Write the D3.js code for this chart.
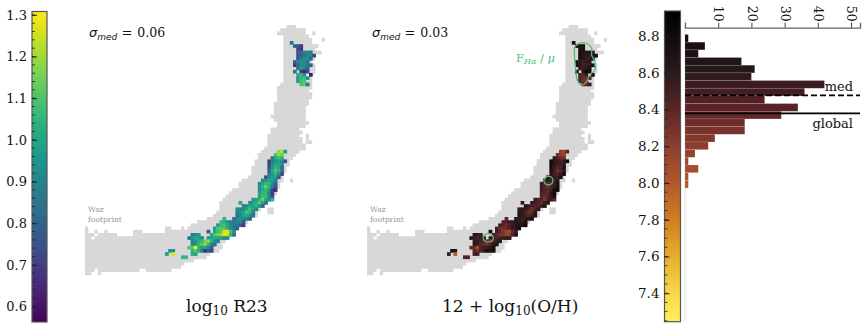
<!DOCTYPE html>
<html>
<head>
<meta charset="utf-8">
<script src="https://cdn.jsdelivr.net/npm/d3@7"></script>
<style>
  html, body { margin: 0; padding: 0; background: #fff; }
  svg { display: block; }
  text { font-family: "DejaVu Serif", serif; fill: #111; }
</style>
</head>
<body>
<svg id="chart" width="867" height="329"></svg>
<script>
// footprint spans: [row, first column, end column]
const footprintRows = [
  [0,63,66],[1,61,69],[2,60,69],[2,71,72],[3,62,70],[4,62,71],[4,74,75],[5,62,71],[6,62,73],[7,62,72],
  [8,62,74],[9,62,72],[10,62,72],[11,62,71],[12,62,72],[13,62,72],[14,62,72],[15,62,69],[15,70,71],[16,62,71],
  [17,62,71],[18,61,71],[19,60,71],[20,60,70],[21,60,71],[22,60,71],[23,60,70],[24,59,70],[25,59,69],[26,59,69],
  [27,59,69],[28,58,69],[29,59,69],[30,60,70],[31,60,69],[32,58,67],[33,58,68],[34,57,67],[34,69,70],[35,57,68],
  [35,69,70],[36,57,68],[36,69,71],[37,57,69],[38,56,69],[39,55,67],[40,54,66],[41,54,65],[42,53,64],[43,53,64],
  [44,52,63],[45,52,63],[46,52,62],[47,51,62],[48,49,62],[48,64,65],[49,48,61],[50,48,61],[51,46,60],[52,45,60],
  [53,44,59],[54,43,58],[55,42,57],[56,42,56],[57,42,55],[57,57,59],[58,41,54],[58,57,59],[59,40,54],[60,38,52],
  [61,35,49],[61,50,51],[62,33,50],[63,0,1],[63,25,27],[63,30,31],[63,32,48],[64,0,1],[64,3,4],[64,6,7],
  [64,15,18],[64,25,47],[65,0,3],[65,4,10],[65,15,46],[66,0,2],[66,3,45],[67,0,44],[68,0,43],[69,0,43],
  [70,0,42],[71,0,39],[72,0,38],[73,0,34],[74,0,31],[75,0,30],[76,0,3],[76,4,17],[76,19,27],[77,0,2],[77,4,5]
];

// measured cells: [row, first column], values per column below
const cellRows = [
  [5,64],[6,65],[7,66],[8,66],[9,66],[10,66],[11,65],[12,65],[13,66],[14,65],[14,67],[15,66],[15,70],[16,66],[17,66],[18,67],
  [39,60],[40,59],[41,58],[42,57],[43,57],[44,57],[45,57],[46,57],[47,56],[48,55],[49,54],[50,54],[51,54],[52,54],[53,54],[54,52],
  [55,48],[55,51],[56,49],[57,47],[58,47],[59,47],[60,43],[60,46],[61,42],[62,41],[62,49],[63,40],[64,38],[64,40],[65,33],[65,39],
  [66,32],[66,38],[67,33],[68,33],[69,32],[70,26],[70,33],[71,25],[71,27],[71,33],[72,30]
];
const r23Values = [
  [.85],[.8,.78,.68],[.72,.68],[.78,.82,.9,.92,.88],[.75,.8,.85,.9,.92,.7],[.75,.85,.92,.92,.82],[.78,.88,.95,.9,.85],[.68,.82,.92,.95,.88,.8],[.85,.98,.9,.78],[.85],[.7,.65,.72],[1.02,1.05,.9],[.6],[.98,1.05,1.08,.95],[.98,1.08,1.1],[1.1,1.12,.85],
  [1.18,1.22,.98],[1.1,1.2,1.15],[.85,1.02,1.08,1.05],[.68,.9,.95,1,.92,.75],[.72,.92,1,1,.92],[.75,.95,1.05,1.02,.82],[.8,1,1.1,1.05,.85],[.85,.98,1.05,.95,.7],[.7,.92,.98,1,.78],[.9,.95,1,1,.9],[.95,1,1.05,1.05,.95,.8],[.95,1.05,1.15,1.05,.9,.75],[.92,1,1.05,.98,.7,.65],[1,1.05,1.05,.88,.68],[1,1.08,1.05,.9,.75],[.95,1,1.05,1.15,1,.95,1.05],
  [1],[.9,.98,1.02,1.12,1,.85],[.85,.95,1,1,1.05,.95,.8],[.95,.9,.95,1,1.08,1,.9],[.88,.95,1,1.1,1.05,.9],[.85,.9,1,1.02,.95,.85],[1.05],[.85,.9,.95,.92,.85,.8],[1.08,1.02,.95,.9,.85,.88,.92,.75],[.95,1.05,1.1,1,.92,.85,.88,.8],[.7],[.98,1.1,1.12,1.1,1.02,.9,.85,.78],[.75],[1,1.08,1.12,1.27,1.28,1.1,.95],[.85,.9,.98],[1,1.1,1.15,1.2,1.28,1.26,1.05,.85],
  [.85,.95,1.02,.98,.9],[.95,1,1.02,1,1,.92,.95],[.9,.95,1.02,1.05,1.15,1.2,1.05,.95,.85],[.88,.95,1.05,1.12,1.18,1.05,.9,.82],[1.1,1.12,1.3,1.05,.98,1,.9,.78],[.95,.95],[1.05,1.12,1.02,.9,.65,.8,.7],[.98],[1.28],[1.02,1],[1.05,1.05]
];
const ohValues = [
  [8.75],[8.72,8.7,8.78],[8.72,8.76],[8.72,8.68,8.65,8.62,8.7],[8.8,8.7,8.6,8.58,8.62,8.78],[8.72,8.62,8.55,8.58,8.7],[8.75,8.62,8.55,8.58,8.66],[8.82,8.66,8.56,8.52,8.6,8.74],[8.6,8.52,8.58,8.72],[8.75],[8.7,8.82,8.72],[8.42,8.38,8.6],[8.85],[8.45,8.36,8.33,8.5],[8.45,8.32,8.3],[8.35,8.34,8.6],
  [8.2,8.15,8.4],[8.32,8.22,8.2],[8.62,8.42,8.36,8.32],[8.82,8.6,8.55,8.48,8.58,8.8],[8.8,8.58,8.5,8.5,8.6],[8.75,8.55,8.42,8.48,8.72],[8.72,8.5,8.3,8.42,8.68],[8.68,8.52,8.45,8.56,8.82],[8.8,8.6,8.54,8.5,8.72],[8.58,8.55,8.5,8.5,8.6],[8.52,8.48,8.42,8.42,8.54,8.7],[8.5,8.4,8.35,8.42,8.58,8.78],[8.55,8.48,8.42,8.5,8.8,8.85],[8.48,8.42,8.42,8.62,8.82],[8.42,8.36,8.4,8.6,8.75],[8.55,8.48,8.42,8.28,8.48,8.55,8.42],
  [8.55],[8.62,8.52,8.48,8.34,8.5,8.65],[8.68,8.56,8.5,8.48,8.42,8.54,8.7],[8.58,8.6,8.55,8.48,8.34,8.46,8.6],[8.62,8.54,8.46,8.32,8.38,8.58],[8.66,8.6,8.48,8.44,8.54,8.66],[8.42],[8.66,8.6,8.54,8.58,8.66,8.72],[8.42,8.46,8.54,8.6,8.66,8.62,8.58,8.76],[8.55,8.42,8.36,8.48,8.56,8.66,8.62,8.72],[8.82],[8.5,8.36,8.3,8.36,8.45,8.6,8.66,8.74],[8.78],[8.5,8.4,8.26,8.15,8.14,8.36,8.55],[8.66,8.6,8.5],[8.5,8.38,8.32,8.28,8.16,8.18,8.45,8.66],
  [8.66,8.56,8.48,8.52,8.6],[8.55,8.5,8.46,8.5,8.5,8.6,8.56],[8.6,8.55,8.46,8.42,8.34,8.3,8.42,8.55,8.66],[8.62,8.55,8.44,8.36,8.3,8.44,8.6,8.7],[8.36,8.34,8.08,8.44,8.52,8.5,8.6,8.74],[8.72,8.7],[8.42,8.3,8.46,8.6,8.84,8.68,8.78],[8.58],[8],[8.52,8.5],[8.48,8.48]
];

// footprint contours on the right map, in column, row units
const contourUpper = [[65,6.8],[66.6,5.7],[68.6,5.7],[70.2,7.3],[70.2,9.4],[71.2,11.5],[71.2,14.1],[69.7,15.6],[68.6,17.7],[67.1,18.8],[65.7,17.2],[65.3,14.6],[65,11.5],[64.8,8.9]];
const contourMiddle = [[56.7,47.3],[57.8,47.7],[58.1,48.6],[57.7,49.6],[56.7,50],[55.7,49.6],[55.3,48.6],[55.7,47.7]];
const contourLower = [[37.9,65.2],[39.1,65.6],[39.5,66.5],[39.1,67.4],[37.9,67.8],[36.7,67.4],[36.3,66.5],[36.7,65.6]];

// histogram on the right
const histStart = 8.809;
const histBinWidth = 0.0418;
const histCounts = [1,6,4,17,21,20,42,36,24,34,29,18,18,9,7,3,1,4,1,1];
const histTicks = [10,20,30,40,50];
const medValue = 8.478;
const globalValue = 8.38;

const r23Ticks = [0.6,0.7,0.8,0.9,1.0,1.1,1.2,1.3];
const ohTicks = [7.4,7.6,7.8,8.0,8.2,8.4,8.6,8.8];
const ohStops = [7.245,7.4,7.6,7.8,8.0,8.2,8.4,8.6,8.937];
const ohColors = ['#fff05a','#f9d84a','#e8ac2e','#cf7f1e','#b3582b','#8e3e30','#5c2428','#2a1a1c','#000000'];

const GREEN = '#4cc27a';

const svg = d3.select('#chart');
const defs = svg.append('defs');
defs.append('filter').attr('id', 'soft')
  .attr('x', '-2%').attr('y', '-2%').attr('width', '104%').attr('height', '104%')
  .append('feGaussianBlur').attr('stdDeviation', 0.5);

const r23Color = d3.scaleSequential(d3.interpolateViridis).domain([0.563, 1.308]);
const ohColor = d3.scaleLinear().domain(ohStops).range(ohColors).clamp(true);

const xCell = d3.scaleLinear().domain([0, 77]).range([85, 331.4]);
const yCell = d3.scaleLinear().domain([0, 77]).range([25, 271.4]);
const cellSize = xCell(1) - xCell(0);

function drawMap(offset, values, color) {
  const g = svg.append('g').attr('transform', `translate(${offset},0)`);
  const cells = g.append('g').attr('filter', 'url(#soft)');
  cells.selectAll('rect.foot')
    .data(footprintRows)
    .join('rect')
    .attr('class', 'foot')
    .attr('x', d => xCell(d[1]))
    .attr('y', d => yCell(d[0]))
    .attr('width', d => xCell(d[2]) - xCell(d[1]))
    .attr('height', cellSize + 0.6)
    .attr('fill', '#d8d8d8');

  const flat = [];
  cellRows.forEach((row, i) => {
    values[i].forEach((v, j) => flat.push({ row: row[0], col: row[1] + j, v }));
  });
  cells.selectAll('rect.cell')
    .data(flat)
    .join('rect')
    .attr('class', 'cell')
    .attr('x', d => xCell(d.col))
    .attr('y', d => yCell(d.row))
    .attr('width', cellSize + 0.5)
    .attr('height', cellSize + 0.5)
    .attr('fill', d => color(d.v));

  const waz = g.append('text').attr('font-size', 7.6).style('fill', '#999');
  waz.append('tspan').attr('x', 88).attr('y', 212).style('fill', '#999').text('Waz');
  waz.append('tspan').attr('x', 88).attr('y', 221.5).style('fill', '#999').text('footprint');
  return g;
}

const leftMap = drawMap(0, r23Values, r23Color);
const rightMap = drawMap(282, ohValues, ohColor);

// green contours on the right map
const contourLine = d3.line()
  .x(d => xCell(d[0]))
  .y(d => yCell(d[1]))
  .curve(d3.curveCardinalClosed);
rightMap.selectAll('path.contour')
  .data([contourUpper, contourMiddle, contourLower])
  .join('path')
  .attr('class', 'contour')
  .attr('d', contourLine)
  .attr('fill', 'none')
  .attr('stroke', '#58b878')
  .attr('stroke-width', 1.3);

// sigma labels and titles
function sigmaLabel(x, val) {
  const t = svg.append('text').attr('x', x).attr('y', 37).attr('font-size', 13);
  t.append('tspan').style('font-family', '"DejaVu Sans"').style('font-style', 'italic').text('σ');
  t.append('tspan').style('font-family', '"DejaVu Sans"').style('font-style', 'italic').attr('font-size', 9).attr('dy', 2.5).text('med');
  t.append('tspan').style('font-family', '"DejaVu Sans"').attr('dy', -2.5).text(' =');
  t.append('tspan').attr('dx', 5).attr('font-size', 12.5).text(val);
}
sigmaLabel(89, '0.06');
sigmaLabel(372, '0.03');

const logLabel = svg.append('text').attr('x', 186).attr('y', 312).attr('font-size', 17);
logLabel.append('tspan').text('log');
logLabel.append('tspan').attr('font-size', 12).attr('dy', 3).text('10');
logLabel.append('tspan').attr('dy', -3).text(' R23');

const ohLabel = svg.append('text').attr('x', 442).attr('y', 312).attr('font-size', 17);
ohLabel.append('tspan').text('12 + log');
ohLabel.append('tspan').attr('font-size', 12).attr('dy', 3).text('10');
ohLabel.append('tspan').attr('dy', -3).text('(O/H)');

const fha = svg.append('text').attr('x', 516).attr('y', 62).attr('font-size', 11.5);
fha.append('tspan').style('fill', GREEN).text('F');
fha.append('tspan').style('fill', GREEN).style('font-style', 'italic').attr('font-size', 8).attr('dy', 2).text('Hα');
fha.append('tspan').style('fill', GREEN).attr('dy', -2).text(' / ');
fha.append('tspan').style('fill', GREEN).style('font-style', 'italic').text('μ');

// colour bars
function drawColorbar(id, x0, x1, y, color, ticks, minorStep, fontSize) {
  const [lo, hi] = y.domain();
  const grad = defs.append('linearGradient').attr('id', id)
    .attr('x1', 0).attr('y1', 1).attr('x2', 0).attr('y2', 0);
  grad.selectAll('stop')
    .data(d3.range(0, 1.0001, 0.02))
    .join('stop')
    .attr('offset', d => d)
    .attr('stop-color', d => color(lo + d * (hi - lo)));

  svg.append('rect')
    .attr('x', x0).attr('y', y(hi))
    .attr('width', x1 - x0).attr('height', y(lo) - y(hi))
    .attr('fill', `url(#${id})`)
    .attr('stroke', '#555').attr('stroke-width', 1.2);

  const minor = d3.range(Math.ceil(lo / minorStep) * minorStep, hi, minorStep);
  svg.selectAll(`line.minor-${id}`)
    .data(minor)
    .join('line')
    .attr('class', `minor-${id}`)
    .attr('x1', x0).attr('x2', x0 + 3)
    .attr('y1', d => y(d)).attr('y2', d => y(d))
    .attr('stroke', '#222').attr('stroke-width', 0.8);

  const axis = d3.axisLeft(y).tickValues(ticks).tickFormat(d3.format('.1f')).tickSize(0).tickPadding(5);
  const ax = svg.append('g').attr('transform', `translate(${x0},0)`).call(axis);
  ax.select('.domain').remove();
  ax.selectAll('text').attr('font-size', fontSize).style('font-family', '"DejaVu Serif"');
  ax.selectAll('line')
    .attr('x1', 0).attr('x2', 5)
    .attr('stroke', '#222').attr('stroke-width', 1);
}

const yR23 = d3.scaleLinear().domain([0.563, 1.308]).range([322, 11.5]);
const yOH = d3.scaleLinear().domain([7.245, 8.937]).range([321.7, 11]);
drawColorbar('cbar-r23', 32, 47, yR23, r23Color, r23Ticks, 0.02, 13);
drawColorbar('cbar-oh', 664.5, 680.5, yOH, ohColor, ohTicks, 0.05, 13.5);

// histogram
const xHist = d3.scaleLinear().domain([0, 52.7]).range([685, 860]);
const histBins = histCounts.map((n, i) => ({
  n,
  top: histStart - i * histBinWidth,
  bottom: histStart - (i + 1) * histBinWidth
}));

svg.append('line')
  .attr('x1', 685).attr('x2', 685)
  .attr('y1', 19).attr('y2', 321)
  .attr('stroke', '#e4e0de').attr('stroke-width', 1);

svg.selectAll('rect.bar')
  .data(histBins)
  .join('rect')
  .attr('class', 'bar')
  .attr('x', xHist(0))
  .attr('y', d => yOH(d.top))
  .attr('width', d => xHist(d.n) - xHist(0))
  .attr('height', d => yOH(d.bottom) - yOH(d.top))
  .attr('fill', d => ohColor((d.top + d.bottom) / 2))
  .attr('stroke', '#fff').attr('stroke-opacity', 0.2).attr('stroke-width', 0.6);

const histAxis = svg.append('g')
  .attr('transform', 'translate(0,27.7)')
  .call(d3.axisTop(xHist).tickValues(histTicks).tickSize(5));
histAxis.select('.domain').attr('stroke', '#666').attr('stroke-width', 1.3);
histAxis.selectAll('line').attr('stroke', '#444').attr('stroke-width', 1);
histAxis.selectAll('text')
  .attr('font-size', 12.5)
  .style('font-family', '"DejaVu Serif"')
  .attr('text-anchor', 'end')
  .attr('x', 0)
  .attr('y', 0)
  .attr('dy', '0.35em')
  .attr('transform', 'translate(0,-6) rotate(90)');

svg.append('line')
  .attr('x1', xHist(0)).attr('x2', 860)
  .attr('y1', yOH(medValue)).attr('y2', yOH(medValue))
  .attr('stroke', '#000').attr('stroke-width', 1.8).attr('stroke-dasharray', '6,3');
svg.append('line')
  .attr('x1', xHist(0)).attr('x2', 860)
  .attr('y1', yOH(globalValue)).attr('y2', yOH(globalValue))
  .attr('stroke', '#000').attr('stroke-width', 1.8);

svg.append('text').attr('x', 853).attr('y', 91).attr('text-anchor', 'end').attr('font-size', 13).text('med');
svg.append('text').attr('x', 853).attr('y', 128).attr('text-anchor', 'end').attr('font-size', 13).text('global');
</script>
</body>
</html>
